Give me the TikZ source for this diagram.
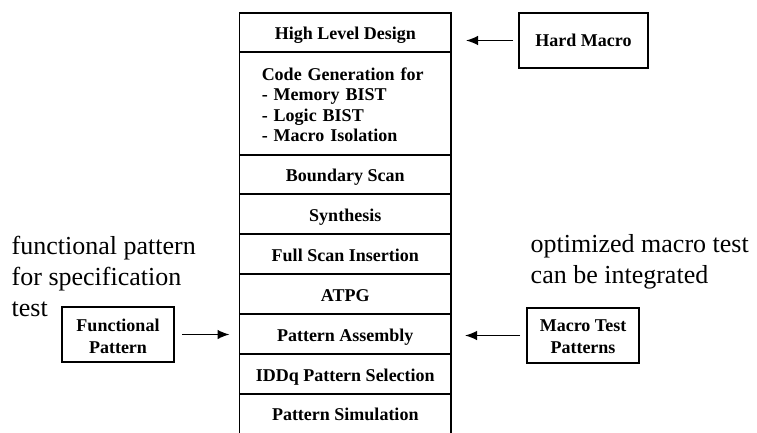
\documentclass[tikz,border=0pt]{standalone}
\usepackage{fontspec}
\setmainfont{Liberation Serif}
\usetikzlibrary{arrows.meta}

\tikzset{
  rowbase/.style={draw, line width=1.4pt, minimum width=211.5pt, inner sep=0pt, outer sep=0pt,
    font=\fontsize{18}{20.6}\selectfont\bfseries},
  stage/.style={rowbase, text height=14pt, text depth=0pt},
  sidebox/.style={draw, line width=1.3pt, inner sep=0pt, outer sep=0pt, align=center,
    font=\fontsize{18}{22}\selectfont\bfseries},
  note/.style={inner sep=0pt, anchor=base west, align=left, font=\fontsize{26}{30.8}\selectfont},
  feed/.style={line width=1.4pt, -{Latex[length=12pt,width=9.5pt]}}
}

\begin{document}
\begin{tikzpicture}[x=1pt,y=-1pt]
\useasboundingbox[fill=white] (0,0) rectangle (757,433);

% design flow column
\node[stage, minimum height=39pt] (hld) at (345.25,32.5) {High Level Design};
\node[rowbase, minimum height=103pt, text width=167pt, align=left] (cg) at (345.25,103.5)
  {\rule{0pt}{15pt}Code Generation for\\- Memory BIST\\- Logic BIST\\- Macro Isolation};
\node[stage, minimum height=39pt] (bs) at (345.25,174.5) {Boundary Scan};
\node[stage, minimum height=40pt] (syn) at (345.25,214) {Synthesis};
\node[stage, minimum height=40pt] (fsi) at (345.25,254) {Full Scan Insertion};
\node[stage, minimum height=40pt] (atpg) at (345.25,294) {ATPG};
\node[stage, minimum height=40pt] (pa) at (345.25,334) {Pattern Assembly};
\node[stage, minimum height=40pt] (iddq) at (345.25,374) {IDDq Pattern Selection};
% last stage runs on past the lower edge
\node[stage, draw=none, minimum height=40pt] (ps) at (345.25,413.5) {Pattern Simulation};
\draw[line width=1.4pt] (ps.south west) ++(0,6) -- (ps.north west) -- (ps.north east) -- ++(0,46);

% inputs
\node[sidebox, minimum width=129pt, minimum height=55pt] (hm) at (583.5,40.5) {Hard Macro};
\node[sidebox, minimum width=112pt, minimum height=55pt] (fp) at (118,334.5) {\rule{0pt}{16pt}Functional\\Pattern};
\node[sidebox, minimum width=112pt, minimum height=55pt] (mtp) at (583,335.5) {\rule{0pt}{15pt}Macro Test\\Patterns};

\draw[feed, shorten <=6pt, shorten >=15pt] (hm.west) -- (hm.west -| hld.east);
\draw[feed, shorten <=8pt, shorten >=10pt] (fp.east) -- (fp.east -| pa.west);
\draw[feed, shorten <=7pt, shorten >=14pt] (mtp.west) -- (mtp.west -| pa.east);

% remarks (anchored at the baseline of their last line)
\node[note] (fnote) at (11.5,316.5) {functional pattern\\for specification\\test};
\node[note] (mnote) at (530.5,283) {optimized macro test\\can be integrated};
\end{tikzpicture}
\end{document}
